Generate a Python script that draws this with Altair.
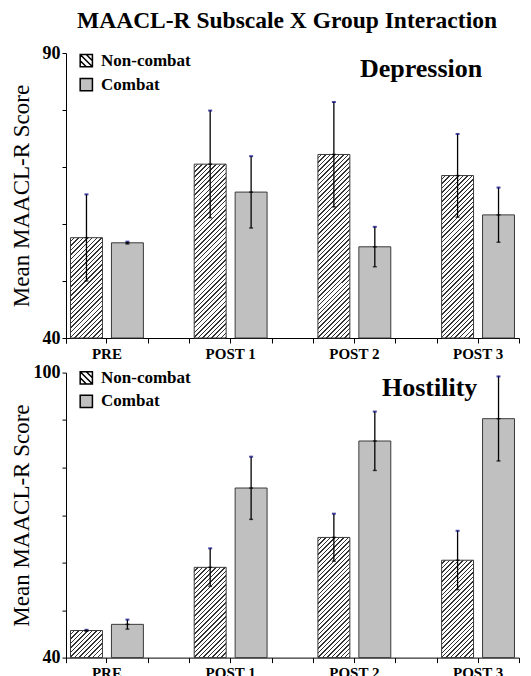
import math
import altair as alt
import pandas as pd

# ---------------- data ----------------
groups = ["PRE", "POST 1", "POST 2", "POST 3"]
series = ["Non-combat", "Combat"]
panel_names = ["Depression", "Hostility"]
y_title = "Mean MAACL-R Score"
chart_title = "MAACL-R Subscale X Group Interaction"

dep_noncombat = [57.6, 70.5, 72.2, 68.5]
dep_noncombat_err = [7.6, 9.4, 9.2, 7.3]
dep_combat = [56.7, 65.6, 56.0, 61.6]
dep_combat_err = [0.2, 6.3, 3.5, 4.8]

hos_noncombat = [45.7, 59.0, 65.3, 60.5]
hos_noncombat_err = [0.15, 4.0, 5.0, 6.2]
hos_combat = [47.0, 75.7, 85.6, 90.3]
hos_combat_err = [1.0, 6.6, 6.2, 8.9]

dep_ticks = [40, 50, 60, 70, 80, 90]
hos_ticks = [40, 50, 60, 70, 80, 90, 100]

# ---------------- style ----------------
FONT = "Liberation Serif"
PW, PH = 453, 285
X_PAD_INNER = 0.338
OFF_PAD_INNER, OFF_PAD_OUTER = 0.22, 0.11
COMBAT_FILL = "#c0c0c0"
STRIPE = "#333333"


def bar_width_px():
    step = PW / (len(groups) - X_PAD_INNER)
    band = step * (1 - X_PAD_INNER)
    s = band / (2 - OFF_PAD_INNER + 2 * OFF_PAD_OUTER)
    return s * (1 - OFF_PAD_INNER)


def hatch(wpx, hpx, pitch=3.2, frac=0.33):
    # linear gradient with hard stops -> 45 degree "////" stripes on a bar of wpx x hpx
    k = (wpx + hpx) / (wpx ** 2 + hpx ** 2)
    length = (wpx + hpx) / math.sqrt(2)
    n = max(1, int(round(length / pitch)))
    stops = []
    for i in range(n):
        a = round(i / n, 5)
        b = round((i + 1 - frac) / n, 5)
        c = round((i + 1) / n, 5)
        stops += [
            {"offset": a, "color": "white"},
            {"offset": b, "color": "white"},
            {"offset": b, "color": STRIPE},
            {"offset": c, "color": STRIPE},
        ]
    return {"gradient": "linear", "x1": 0, "y1": 0,
            "x2": round(k * wpx, 5), "y2": round(k * hpx, 5), "stops": stops}


HATCH_PATH = "M-1,-1H1V1H-1Z M-1,-1L1,1 M-1,0L0,1 M0,-1L1,0"


def panel(name, non, non_err, com, com_err, ticks, label_right, legend_rows):
    rows = []
    for g, v, e in zip(groups, non, non_err):
        rows.append({"group": g, "series": series[0], "value": v, "lo": v - e, "hi": v + e})
    for g, v, e in zip(groups, com, com_err):
        rows.append({"group": g, "series": series[1], "value": v, "lo": v - e, "hi": v + e})
    df = pd.DataFrame(rows)

    ymin, ymax = ticks[0], ticks[-1]

    def xscale():
        return alt.Scale(domain=groups, paddingInner=X_PAD_INNER, paddingOuter=0)

    def offscale():
        return alt.Scale(domain=series, paddingInner=OFF_PAD_INNER, paddingOuter=OFF_PAD_OUTER)

    def yscale():
        return alt.Scale(domain=[ymin, ymax], nice=False, zero=False)

    yaxis = alt.Axis(
        title=y_title, titleFont=FONT, titleFontSize=23, titleFontWeight="normal",
        titleColor="black", titleX=-44.5, titleBaseline="middle",
        values=ticks,
        labelExpr=f"datum.value == {ymin} || datum.value == {ymax} ? datum.label : ''",
        labelFont=FONT, labelFontSize=18, labelFontWeight="bold", labelColor="black",
        labelPadding=2, tickSize=4, tickColor="black", domainColor="black", grid=False,
    )
    axis_a = alt.Axis(title=None, orient="bottom", labelFont=FONT, labelFontSize=15,
                      labelFontWeight="bold", labelColor="black", labelAngle=0,
                      labelPadding=3, tickSize=5, tickColor="black", domainColor="black",
                      grid=False)
    axis_b = alt.Axis(title=None, orient="bottom", labels=False, domain=False,
                      tickSize=5, tickColor="black", tickBand="extent", grid=False)
    axis_c = alt.Axis(title=None, orient="bottom", labels=False, domain=False,
                      tickSize=5, tickColor="black", bandPosition=0, grid=False)

    def X(axis):
        return alt.X("group:N", sort=groups, scale=xscale(), axis=axis)

    def XO():
        return alt.XOffset("series:N", sort=series, scale=offscale())

    def Y(field, axis=None):
        return alt.Y(field, scale=yscale(), axis=axis)

    # hatch fills for the non-combat bars
    wpx = bar_width_px()
    conds = []
    for g, v in zip(groups, non):
        hpx = (v - ymin) / (ymax - ymin) * PH
        conds.append({"test": f"datum.series == '{series[0]}' && datum.group == '{g}'",
                      "value": hatch(wpx, hpx)})

    base = alt.Chart(df)
    bars = base.mark_bar(stroke="#3a3a3a", strokeWidth=1).encode(
        x=X(axis_a), xOffset=XO(),
        y=Y("value:Q", yaxis), y2=alt.datum(ymin),
        fill=alt.FillValue(value=COMBAT_FILL, condition=conds),
    )
    rules = base.mark_rule(color="black", strokeWidth=1.3).encode(
        x=X(axis_b), xOffset=XO(), y=Y("lo:Q"), y2="hi:Q",
    )
    top_caps = base.mark_tick(color="#000080", thickness=2, size=4, orient="horizontal").encode(
        x=X(None), xOffset=XO(), y=Y("hi:Q"),
    )
    bot_caps = base.mark_tick(color="black", thickness=1.5, size=4, orient="horizontal").encode(
        x=X(None), xOffset=XO(), y=Y("lo:Q"),
    )
    means = base.mark_tick(color="black", thickness=1.5, size=4, orient="horizontal").encode(
        x=X(axis_c), xOffset=XO(), y=Y("value:Q"),
    )

    # legend (symbols + labels) drawn from the series list
    leg_df = pd.DataFrame({"series": series})
    leg_y = alt.Y("series:N", sort=series,
                  scale=alt.Scale(type="point", domain=series, range=legend_rows, padding=0),
                  axis=None)
    leg_sym = alt.Chart(leg_df).mark_point(filled=True, size=150, stroke="black",
                                          strokeWidth=1.5, opacity=1).encode(
        x=alt.value(20.3), y=leg_y,
        fill=alt.Fill("series:N", sort=series,
                      scale=alt.Scale(domain=series, range=["white", COMBAT_FILL]), legend=None),
        shape=alt.Shape("series:N", sort=series,
                        scale=alt.Scale(domain=series, range=[HATCH_PATH, "square"]), legend=None),
    )
    leg_txt = alt.Chart(leg_df).mark_text(font=FONT, fontSize=17, fontWeight="bold",
                                         color="black", align="left", baseline="middle").encode(
        text="series:N", x=alt.value(35), y=leg_y,
    )

    label = alt.Chart(pd.DataFrame({"panel": [name]})).mark_text(
        font=FONT, fontSize=26, fontWeight="bold", color="black", align="right",
        baseline="alphabetic").encode(
        text="panel:N", x=alt.value(label_right), y=alt.value(23.7))

    return alt.layer(bars, rules, top_caps, bot_caps, means, leg_sym, leg_txt, label).resolve_scale(
        x="independent", y="independent").resolve_axis(
        x="independent", y="independent").properties(width=PW, height=PH)


top = panel(panel_names[0], dep_noncombat, dep_noncombat_err, dep_combat, dep_combat_err,
            dep_ticks, 416.3, [7.7, 31.7])
bottom = panel(panel_names[1], hos_noncombat, hos_noncombat_err, hos_combat, hos_combat_err,
               hos_ticks, 411.3, [5.2, 28.7])

chart = alt.vconcat(top, bottom, spacing=34.6, bounds="flush").properties(
    title=alt.TitleParams(chart_title, font=FONT, fontSize=23.5, fontWeight="bold",
                          color="black", anchor="middle", offset=12, dx=22),
    padding={"left": 2, "top": 0, "right": 0, "bottom": 0},
).configure_view(stroke=None)

chart.save("out.html", embed_options={"renderer": "svg", "actions": False})
